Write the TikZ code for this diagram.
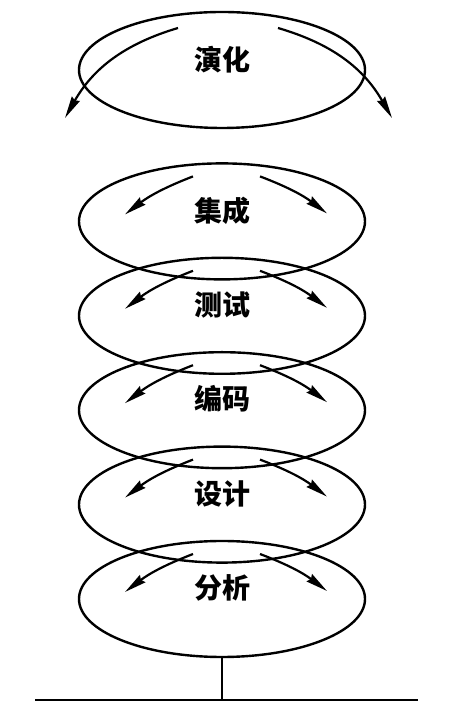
\documentclass[tikz,border=0pt]{standalone}
\usepackage{fontspec}
\usepackage{tikz}
\usetikzlibrary{positioning}
\usetikzlibrary{shapes.geometric}
\usetikzlibrary{arrows.meta}
\newfontfamily\cjk{Noto Sans CJK SC}

\begin{document}
\begin{tikzpicture}
[
ring-a/.style={ellipse, draw, line width=2.4pt, minimum width=286pt, minimum height=116pt, inner sep=0pt},
text-a/.style={black, font=\cjk\bfseries\fontsize{28}{28}\selectfont, inner sep=0pt},
flow-a/.style={line width=2.2pt, -{Stealth[length=22pt, width=9pt, inset=2pt]}},
line-a/.style={line width=2.4pt}
]
\useasboundingbox (0pt,0pt) rectangle (448pt,712pt);
% the rings
\node (ell-yanhua)  [ring-a] at (222pt,642pt)                  {};
\node (ell-jicheng) [ring-a, below =  33.00pt of ell-yanhua ]  {};
\node (ell-ceshi)   [ring-a, below = -24.00pt of ell-jicheng]  {};
\node (ell-bianma)  [ring-a, below = -24.00pt of ell-ceshi  ]  {};
\node (ell-sheji)   [ring-a, below = -24.00pt of ell-bianma ]  {};
\node (ell-fenxi)   [ring-a, below = -24.00pt of ell-sheji  ]  {};
% the labels
\node (txt-yanhua)  [text-a] at ([yshift=10pt]ell-yanhua.center)  {演化};
\node (txt-jicheng) [text-a] at ([yshift=11pt]ell-jicheng.center) {集成};
\node (txt-ceshi)   [text-a] at ([yshift=11pt]ell-ceshi.center)   {测试};
\node (txt-bianma)  [text-a] at ([yshift=11pt]ell-bianma.center)  {编码};
\node (txt-sheji)   [text-a] at ([yshift=11pt]ell-sheji.center)   {设计};
\node (txt-fenxi)   [text-a] at ([yshift=11pt]ell-fenxi.center)   {分析};
% the arrows
\draw [flow-a] ([xshift=-44pt,yshift=42pt]ell-yanhua.center)  to[bend right=22] ([xshift=-157pt,yshift=-48pt]ell-yanhua.center);
\draw [flow-a] ([xshift=56pt,yshift=42pt]ell-yanhua.center)   to[bend left=22]  ([xshift=170pt,yshift=-48pt]ell-yanhua.center);
\draw [flow-a] ([xshift=-29pt,yshift=45pt]ell-jicheng.center) to[bend right=8]  ([xshift=-97pt,yshift=7pt]ell-jicheng.center);
\draw [flow-a] ([xshift=38pt,yshift=45pt]ell-jicheng.center)  to[bend left=8]   ([xshift=105pt,yshift=8pt]ell-jicheng.center);
\draw [flow-a] ([xshift=-29pt,yshift=45pt]ell-ceshi.center)   to[bend right=8]  ([xshift=-97pt,yshift=7pt]ell-ceshi.center);
\draw [flow-a] ([xshift=38pt,yshift=45pt]ell-ceshi.center)    to[bend left=8]   ([xshift=105pt,yshift=8pt]ell-ceshi.center);
\draw [flow-a] ([xshift=-29pt,yshift=45pt]ell-bianma.center)  to[bend right=8]  ([xshift=-97pt,yshift=7pt]ell-bianma.center);
\draw [flow-a] ([xshift=38pt,yshift=45pt]ell-bianma.center)   to[bend left=8]   ([xshift=105pt,yshift=8pt]ell-bianma.center);
\draw [flow-a] ([xshift=-29pt,yshift=45pt]ell-sheji.center)   to[bend right=8]  ([xshift=-97pt,yshift=7pt]ell-sheji.center);
\draw [flow-a] ([xshift=38pt,yshift=45pt]ell-sheji.center)    to[bend left=8]   ([xshift=105pt,yshift=8pt]ell-sheji.center);
\draw [flow-a] ([xshift=-29pt,yshift=45pt]ell-fenxi.center)   to[bend right=8]  ([xshift=-97pt,yshift=7pt]ell-fenxi.center);
\draw [flow-a] ([xshift=38pt,yshift=45pt]ell-fenxi.center)    to[bend left=8]   ([xshift=105pt,yshift=8pt]ell-fenxi.center);
% the ground
\coordinate (ground)   at (222pt,12pt);
\coordinate (ground-l) at (35pt,12pt);
\coordinate (ground-r) at (418pt,12pt);
\draw [line-a] (ell-fenxi.south) -- (ground);
\draw [line-a] (ground-l) -- (ground-r);
\end{tikzpicture}
\end{document}
